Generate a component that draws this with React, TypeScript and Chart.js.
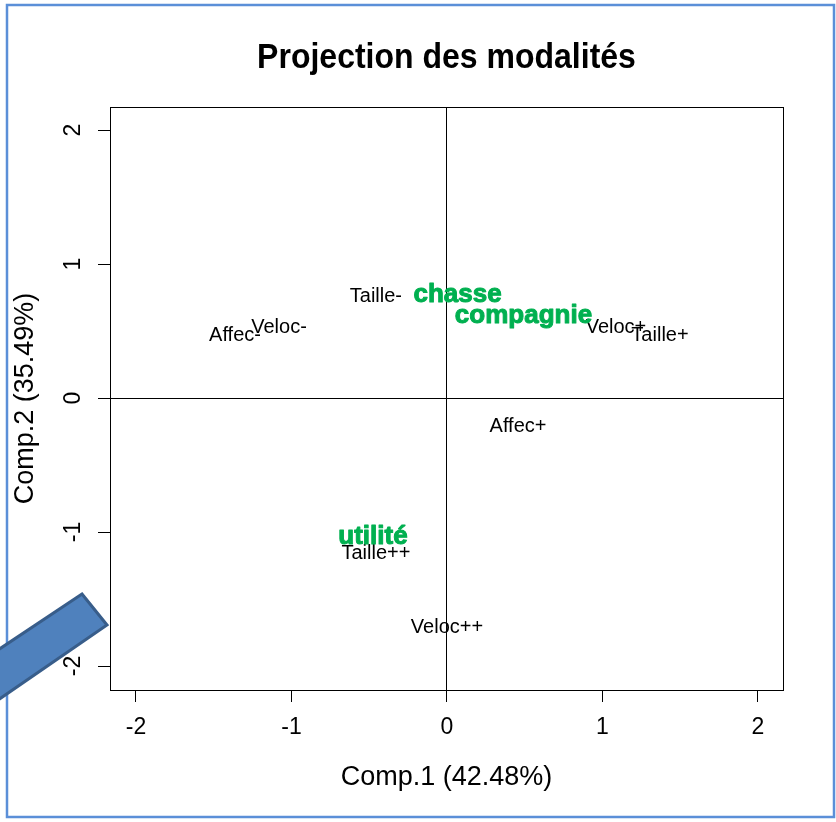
import React, { useEffect, useRef } from "react";
import { Chart, registerables } from "chart.js";

Chart.register(...registerables);

const FONT = "'Liberation Sans', Arial, Helvetica, sans-serif";

// Modalités (black labels)
const modLabels = ["Taille-", "Taille+", "Taille++", "Veloc-", "Veloc+", "Veloc++", "Affec-", "Affec+"];
const modX = [-0.457, 1.37, -0.457, -1.08, 1.087, 0.0, -1.363, 0.457];
const modY = [0.761, 0.47, -1.16, 0.53, 0.53, -1.716, 0.47, -0.209];

// Catégories (green bold labels)
const catLabels = ["chasse", "compagnie", "utilité"];
const catX = [0.068, 0.492, -0.476];
const catY = [0.776, 0.619, -1.03];

const tickValues = [-2, -1, 0, 1, 2];
const chartTitle = "Projection des modalités";
const xTitle = "Comp.1 (42.48%)";
const yTitle = "Comp.2 (35.49%)";

const decoPlugin = {
  id: "deco",
  beforeDraw(chart: any) {
    const ctx = chart.ctx;
    ctx.save();
    ctx.fillStyle = "#ffffff";
    ctx.fillRect(0, 0, chart.width, chart.height);
    ctx.strokeStyle = "#5b8fd8";
    ctx.lineWidth = 2.5;
    ctx.strokeRect(7, 5, 827, 812);
    ctx.restore();
  },
  afterDatasetsDraw(chart: any) {
    const ctx = chart.ctx;
    const xs = chart.scales.x;
    const ys = chart.scales.y;
    ctx.save();
    ctx.textAlign = "center";
    ctx.textBaseline = "middle";
    ctx.fillStyle = "#000000";
    ctx.font = `20px ${FONT}`;
    modLabels.forEach((l, i) => {
      ctx.fillText(l, xs.getPixelForValue(modX[i]), ys.getPixelForValue(modY[i]));
    });
    ctx.fillStyle = "#00b050";
    ctx.strokeStyle = "#00b050";
    ctx.lineWidth = 1;
    ctx.lineJoin = "round";
    ctx.font = `bold 26px ${FONT}`;
    catLabels.forEach((l, i) => {
      const px = xs.getPixelForValue(catX[i]);
      const py = ys.getPixelForValue(catY[i]) + 1;
      ctx.fillText(l, px, py);
      ctx.strokeText(l, px, py);
    });
    ctx.restore();
  },
  afterDraw(chart: any) {
    const ctx = chart.ctx;
    const a = chart.chartArea;
    ctx.save();
    // plot box
    ctx.strokeStyle = "#000000";
    ctx.lineWidth = 1;
    ctx.strokeRect(Math.round(a.left) + 0.5, Math.round(a.top) + 0.5, Math.round(a.right - a.left), Math.round(a.bottom - a.top));
    // main title
    ctx.fillStyle = "#000000";
    ctx.textAlign = "center";
    ctx.textBaseline = "middle";
    ctx.font = `bold 32px ${FONT}`;
    ctx.translate((a.left + a.right) / 2, 58);
    ctx.scale(1, 1.12);
    ctx.fillText(chartTitle, 0, 0);
    ctx.restore();

    // decorative block arrow (overlay)
    ctx.save();
    ctx.beginPath();
    ctx.moveTo(82, 594);
    ctx.lineTo(107, 625);
    ctx.lineTo(-5, 702);
    ctx.lineTo(-5, 652);
    ctx.closePath();
    ctx.fillStyle = "#4f81bd";
    ctx.fill();
    ctx.strokeStyle = "#385d8a";
    ctx.lineWidth = 3;
    ctx.stroke();
    ctx.restore();
  },
};

export default function App() {
  const ref = useRef<HTMLCanvasElement | null>(null);

  useEffect(() => {
    document.body.style.margin = "0";
    const canvas = ref.current;
    if (!canvas) return;
    const zeroColor = (c: any) => (c.tick && c.tick.value === 0 ? "#000000" : "rgba(0,0,0,0)");
    const chart = new Chart(canvas, {
      type: "scatter",
      data: {
        datasets: [
          {
            label: "Modalités",
            data: modLabels.map((_, i) => ({ x: modX[i], y: modY[i] })),
            pointRadius: 0,
            pointHoverRadius: 0,
          },
          {
            label: "Catégories",
            data: catLabels.map((_, i) => ({ x: catX[i], y: catY[i] })),
            pointRadius: 0,
            pointHoverRadius: 0,
          },
        ],
      },
      options: {
        responsive: false,
        animation: false,
        events: [],
        layout: { padding: { top: 107, right: 53, left: 0, bottom: 0 } },
        plugins: {
          legend: { display: false },
          tooltip: { enabled: false },
          title: { display: false },
        },
        scales: {
          x: {
            type: "linear",
            min: -2.167,
            max: 2.161,
            afterBuildTicks: (s: any) => {
              s.ticks = tickValues.map((v) => ({ value: v }));
            },
            afterFit: (s: any) => {
              s.height = 132;
            },
            grid: {
              drawOnChartArea: true,
              color: zeroColor,
              tickColor: "#000000",
              tickLength: 12,
              lineWidth: 1,
            },
            border: { display: false },
            ticks: {
              color: "#000000",
              font: { family: FONT, size: 23 },
              padding: 12,
              maxRotation: 0,
              autoSkip: false,
              callback: (v: any) => String(v),
            },
            title: {
              display: true,
              text: xTitle,
              color: "#000000",
              font: { family: FONT, size: 27 },
              padding: { top: 0, bottom: 28 },
            },
          },
          y: {
            type: "linear",
            min: -2.179,
            max: 2.172,
            afterBuildTicks: (s: any) => {
              s.ticks = tickValues.map((v) => ({ value: v }));
            },
            afterFit: (s: any) => {
              s.width = 110;
            },
            grid: {
              drawOnChartArea: true,
              color: zeroColor,
              tickColor: "#000000",
              tickLength: 12,
              lineWidth: 1,
            },
            border: { display: false },
            ticks: {
              color: "#000000",
              font: { family: FONT, size: 23 },
              padding: 14,
              minRotation: 90,
              maxRotation: 90,
              crossAlign: "center",
              autoSkip: false,
              callback: (v: any) => String(v),
            },
            title: {
              display: true,
              text: yTitle,
              color: "#000000",
              font: { family: FONT, size: 27 },
              padding: { top: 9, bottom: 0 },
            },
          },
        },
      },
      plugins: [decoPlugin],
    } as any);
    return () => chart.destroy();
  }, []);

  return <canvas ref={ref} width={836} height={822} style={{ display: "block" }} />;
}
